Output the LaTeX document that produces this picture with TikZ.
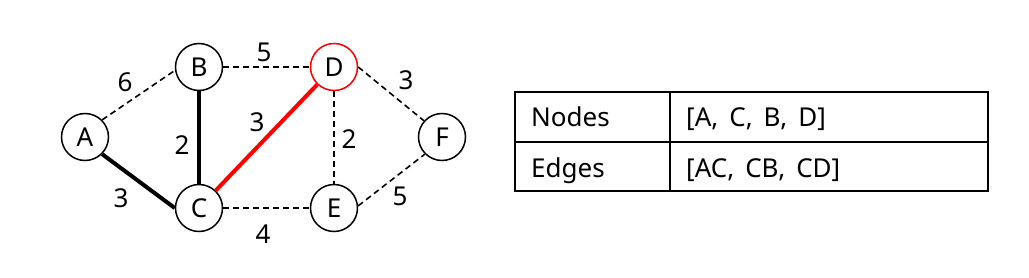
\documentclass[tikz,border=0pt]{standalone}
\usepackage{fontspec}
\setmainfont{Noto Sans}
\newcommand\myWideSpace{\spaceskip=11pt plus 1pt\relax}
\begin{document}
\begin{tikzpicture}[x=1pt,y=-1pt,
  vtx/.style={circle,draw,line width=1.5pt,minimum size=47pt,inner sep=0pt,font=\fontsize{26}{30}\selectfont},
  redvtx/.style={vtx,draw=red},
  dashedge/.style={line width=1.6pt,dash pattern=on 6pt off 4pt},
  treeedge/.style={line width=4pt},
  rededge/.style={line width=4pt,red},
  wlabel/.style={font=\fontsize{26}{30}\selectfont,inner sep=0pt},
  cell/.style={anchor=base west,inner sep=0pt,font=\fontsize{26}{30}\selectfont,execute at begin node=\myWideSpace},
  tline/.style={line width=1.7pt}]
\useasboundingbox (0,0) rectangle (1029,278);
\node[vtx] (A) at (85,137) {A};
\node[vtx] (B) at (199,67) {B};
\node[vtx] (C) at (199,208) {C};
\node[redvtx] (D) at (334,67) {D};
\node[vtx] (E) at (334,208) {E};
\node[vtx] (F) at (442,137) {F};
\draw[dashedge] (A.45) -- (B.188);
\draw[dashedge] (B.east) -- (D.west);
\draw[dashedge] (D.east) -- (F.138);
\draw[dashedge] (D.south) -- (E.north);
\draw[dashedge] (C.east) -- (E.west);
\draw[dashedge] (E.5) -- (F.-135);
\draw[treeedge] (A.-45) -- (C.180);
\draw[treeedge] (B.south) -- (C.north);
\draw[rededge] (C) -- (D);
\node[wlabel] (l6) at (125,82) {6};
\node[wlabel] (l5a) at (264,52) {5};
\node[wlabel] (l3a) at (406,80) {3};
\node[wlabel] (l3b) at (257,122) {3};
\node[wlabel] (l2a) at (182,145) {2};
\node[wlabel] (l2b) at (349,139) {2};
\node[wlabel] (l3c) at (121,198) {3};
\node[wlabel] (l4) at (263,234) {4};
\node[wlabel] (l5b) at (400,196) {5};
% table
\coordinate (t1) at (515,92);
\coordinate (t2) at (988,191);
\coordinate (h1) at (515,142);
\coordinate (h2) at (988,142);
\coordinate (v1) at (670,92);
\coordinate (v2) at (670,191);
\draw[tline] (t1) rectangle (t2);
\draw[tline] (h1) -- (h2);
\draw[tline] (v1) -- (v2);
\node[cell] (n1) at (531,127) {Nodes};
\node[cell] (n2) at (686,127) {[A, C, B, D]};
\node[cell] (e1) at (531,177) {Edges};
\node[cell] (e2) at (686,177) {[AC, CB, CD]};
\end{tikzpicture}
\end{document}
